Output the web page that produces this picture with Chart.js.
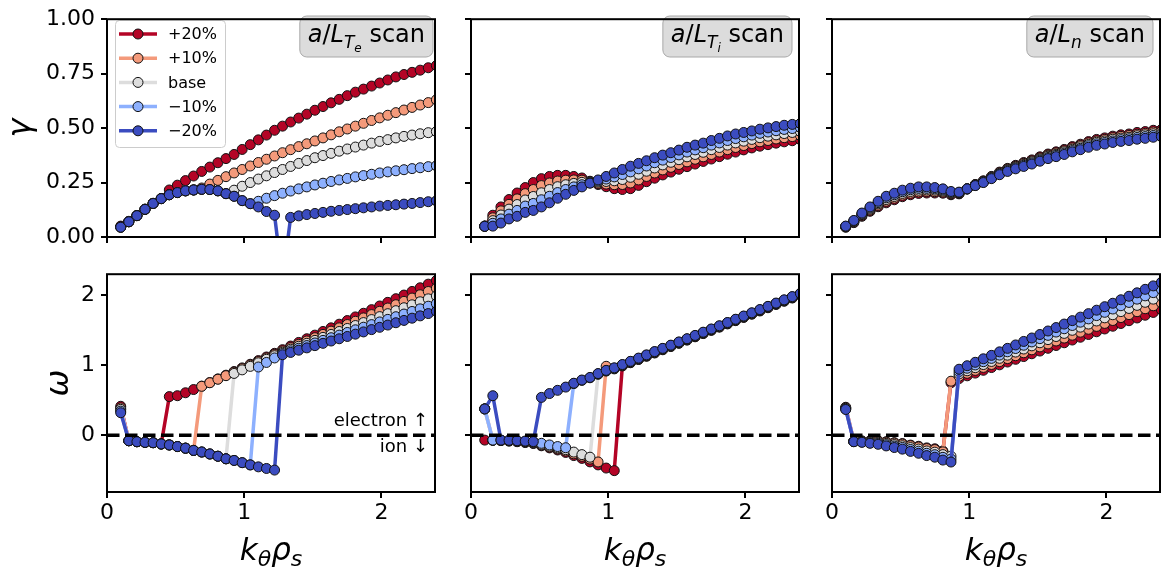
<!DOCTYPE html>
<html lang="en">
<head>
  <meta charset="UTF-8">
  <title>Growth rate and frequency scans</title>
  <script src="https://cdn.jsdelivr.net/npm/chart.js"></script>
  <style>
    body {
      margin: 0;
      width: 1161px;
      height: 576px;
      overflow: hidden;
      position: relative;
      background: #ffffff;
      font-family: 'DejaVu Sans', sans-serif;
    }
    canvas { position: absolute; }
  </style>
</head>
<body>
<script>
  // k_theta rho_s grid (shared by every panel)
  const kx = [0.100, 0.159, 0.218, 0.277, 0.336, 0.395, 0.454, 0.513, 0.572, 0.631,
              0.690, 0.749, 0.808, 0.867, 0.926, 0.985, 1.044, 1.103, 1.162, 1.221,
              1.279, 1.338, 1.397, 1.456, 1.515, 1.574, 1.633, 1.692, 1.751, 1.810,
              1.869, 1.928, 1.987, 2.046, 2.105, 2.164, 2.223, 2.282, 2.341, 2.400];

  // growth rate, a/L_Te scan
  const gTeP20 = [0.050, 0.072, 0.099, 0.128, 0.155, 0.177, 0.216, 0.238, 0.259, 0.280, 0.301, 0.321, 0.341, 0.360, 0.379, 0.402, 0.424, 0.446, 0.468, 0.490, 0.509, 0.528, 0.546, 0.564, 0.582, 0.599, 0.616, 0.632, 0.649, 0.665, 0.679, 0.693, 0.707, 0.721, 0.735, 0.746, 0.756, 0.766, 0.777, 0.787];
  const gTeP10 = [0.046, 0.070, 0.098, 0.127, 0.154, 0.176, 0.194, 0.204, 0.212, 0.216, 0.225, 0.243, 0.260, 0.277, 0.294, 0.310, 0.326, 0.342, 0.357, 0.372, 0.387, 0.401, 0.415, 0.428, 0.441, 0.455, 0.469, 0.483, 0.496, 0.509, 0.522, 0.535, 0.547, 0.559, 0.571, 0.583, 0.595, 0.606, 0.617, 0.630];
  const gTeBase = [0.045, 0.070, 0.098, 0.127, 0.154, 0.176, 0.194, 0.204, 0.212, 0.216, 0.219, 0.218, 0.212, 0.199, 0.215, 0.233, 0.250, 0.266, 0.281, 0.296, 0.310, 0.324, 0.338, 0.351, 0.364, 0.374, 0.384, 0.394, 0.404, 0.413, 0.422, 0.431, 0.439, 0.447, 0.455, 0.462, 0.468, 0.474, 0.479, 0.484];
  const gTeM10 = [0.045, 0.070, 0.098, 0.127, 0.154, 0.176, 0.194, 0.204, 0.212, 0.216, 0.219, 0.218, 0.212, 0.199, 0.187, 0.167, 0.153, 0.164, 0.178, 0.190, 0.201, 0.211, 0.221, 0.230, 0.239, 0.247, 0.255, 0.262, 0.269, 0.276, 0.282, 0.288, 0.294, 0.299, 0.304, 0.309, 0.314, 0.318, 0.323, 0.327];
  const gTeM20 = [0.045, 0.070, 0.098, 0.127, 0.154, 0.176, 0.194, 0.204, 0.212, 0.216, 0.219, 0.218, 0.212, 0.199, 0.187, 0.167, 0.153, 0.138, 0.117, 0.100, -0.200, 0.090, 0.097, 0.103, 0.108, 0.113, 0.118, 0.122, 0.126, 0.130, 0.134, 0.138, 0.142, 0.145, 0.148, 0.151, 0.154, 0.158, 0.162, 0.166];

  // growth rate, a/L_Ti scan
  const gTiP20 = [0.050, 0.100, 0.138, 0.172, 0.202, 0.227, 0.250, 0.268, 0.278, 0.283, 0.283, 0.278, 0.271, 0.256, 0.241, 0.231, 0.222, 0.218, 0.222, 0.237, 0.254, 0.270, 0.285, 0.298, 0.311, 0.323, 0.335, 0.347, 0.358, 0.369, 0.380, 0.390, 0.400, 0.409, 0.417, 0.424, 0.431, 0.437, 0.442, 0.447];
  const gTiP10 = [0.050, 0.088, 0.120, 0.150, 0.175, 0.199, 0.218, 0.236, 0.248, 0.257, 0.261, 0.262, 0.261, 0.254, 0.246, 0.243, 0.240, 0.241, 0.248, 0.262, 0.278, 0.294, 0.308, 0.320, 0.333, 0.345, 0.357, 0.368, 0.379, 0.390, 0.401, 0.411, 0.420, 0.429, 0.437, 0.443, 0.450, 0.456, 0.461, 0.466];
  const gTiBase = [0.050, 0.075, 0.101, 0.128, 0.149, 0.170, 0.186, 0.203, 0.218, 0.231, 0.240, 0.246, 0.251, 0.252, 0.252, 0.255, 0.258, 0.264, 0.274, 0.288, 0.302, 0.317, 0.331, 0.343, 0.355, 0.368, 0.379, 0.389, 0.401, 0.411, 0.422, 0.432, 0.440, 0.448, 0.456, 0.463, 0.469, 0.475, 0.480, 0.484];
  const gTiM10 = [0.049, 0.063, 0.083, 0.105, 0.122, 0.142, 0.154, 0.171, 0.187, 0.204, 0.218, 0.230, 0.240, 0.249, 0.257, 0.266, 0.276, 0.287, 0.299, 0.313, 0.326, 0.341, 0.353, 0.365, 0.377, 0.390, 0.400, 0.410, 0.422, 0.432, 0.443, 0.452, 0.460, 0.468, 0.476, 0.482, 0.488, 0.494, 0.498, 0.503];
  const gTiM20 = [0.049, 0.050, 0.064, 0.083, 0.095, 0.113, 0.122, 0.138, 0.157, 0.178, 0.196, 0.214, 0.230, 0.247, 0.262, 0.278, 0.294, 0.310, 0.325, 0.338, 0.350, 0.364, 0.376, 0.387, 0.399, 0.412, 0.422, 0.431, 0.443, 0.453, 0.464, 0.473, 0.480, 0.487, 0.495, 0.501, 0.507, 0.513, 0.517, 0.521];

  // growth rate, a/L_n scan
  const gNP20 = [0.045, 0.066, 0.095, 0.118, 0.139, 0.157, 0.171, 0.185, 0.194, 0.200, 0.202, 0.202, 0.201, 0.194, 0.198, 0.221, 0.241, 0.258, 0.278, 0.298, 0.315, 0.329, 0.342, 0.354, 0.368, 0.381, 0.391, 0.402, 0.415, 0.426, 0.438, 0.448, 0.455, 0.463, 0.469, 0.473, 0.480, 0.484, 0.490, 0.493];
  const gNP10 = [0.046, 0.068, 0.099, 0.123, 0.145, 0.164, 0.178, 0.192, 0.201, 0.207, 0.209, 0.208, 0.206, 0.198, 0.200, 0.221, 0.240, 0.256, 0.276, 0.295, 0.312, 0.325, 0.338, 0.349, 0.363, 0.376, 0.386, 0.396, 0.409, 0.420, 0.432, 0.441, 0.448, 0.456, 0.462, 0.466, 0.472, 0.476, 0.482, 0.485];
  const gNBase = [0.048, 0.071, 0.103, 0.128, 0.152, 0.172, 0.186, 0.200, 0.209, 0.215, 0.216, 0.215, 0.211, 0.202, 0.202, 0.221, 0.239, 0.254, 0.273, 0.292, 0.308, 0.321, 0.333, 0.345, 0.358, 0.371, 0.380, 0.391, 0.403, 0.414, 0.425, 0.435, 0.441, 0.449, 0.454, 0.458, 0.465, 0.469, 0.474, 0.477];
  const gNM10 = [0.049, 0.074, 0.106, 0.133, 0.158, 0.180, 0.194, 0.208, 0.217, 0.223, 0.223, 0.221, 0.216, 0.205, 0.204, 0.221, 0.237, 0.252, 0.271, 0.289, 0.305, 0.317, 0.329, 0.340, 0.353, 0.365, 0.375, 0.385, 0.397, 0.407, 0.419, 0.428, 0.434, 0.441, 0.447, 0.451, 0.457, 0.461, 0.466, 0.469];
  const gNM20 = [0.050, 0.076, 0.110, 0.138, 0.164, 0.187, 0.201, 0.215, 0.224, 0.230, 0.230, 0.227, 0.221, 0.209, 0.206, 0.221, 0.236, 0.250, 0.268, 0.286, 0.301, 0.313, 0.324, 0.335, 0.348, 0.360, 0.369, 0.379, 0.391, 0.401, 0.412, 0.421, 0.427, 0.434, 0.439, 0.443, 0.449, 0.453, 0.458, 0.461];

  // frequency, a/L_Te scan
  const wTeP20 = [0.414, -0.078, -0.092, -0.101, -0.106, -0.124, 0.552, 0.565, 0.607, 0.653, 0.702, 0.752, 0.805, 0.858, 0.910, 0.962, 1.014, 1.066, 1.118, 1.170, 1.222, 1.274, 1.326, 1.378, 1.430, 1.482, 1.534, 1.586, 1.638, 1.690, 1.742, 1.794, 1.846, 1.898, 1.950, 2.002, 2.054, 2.106, 2.158, 2.210];
  const wTeP10 = [0.390, -0.078, -0.092, -0.101, -0.106, -0.124, -0.138, -0.161, -0.184, -0.216, 0.699, 0.750, 0.800, 0.851, 0.901, 0.952, 1.002, 1.053, 1.103, 1.154, 1.204, 1.251, 1.298, 1.346, 1.393, 1.440, 1.487, 1.534, 1.581, 1.628, 1.676, 1.723, 1.770, 1.817, 1.864, 1.912, 1.959, 2.006, 2.053, 2.100];
  const wTeBase = [0.370, -0.078, -0.092, -0.101, -0.106, -0.124, -0.138, -0.161, -0.184, -0.216, -0.239, -0.267, -0.299, -0.336, 0.883, 0.934, 0.984, 1.035, 1.085, 1.136, 1.186, 1.229, 1.271, 1.313, 1.355, 1.398, 1.440, 1.482, 1.525, 1.567, 1.609, 1.652, 1.694, 1.736, 1.779, 1.821, 1.863, 1.906, 1.948, 1.990];
  const wTeM10 = [0.345, -0.078, -0.092, -0.101, -0.106, -0.124, -0.138, -0.161, -0.184, -0.216, -0.239, -0.267, -0.299, -0.336, -0.359, -0.391, -0.423, 0.975, 1.040, 1.104, 1.168, 1.206, 1.243, 1.281, 1.318, 1.355, 1.393, 1.430, 1.468, 1.506, 1.543, 1.580, 1.618, 1.655, 1.693, 1.731, 1.768, 1.805, 1.843, 1.880];
  const wTeM20 = [0.322, -0.078, -0.092, -0.101, -0.106, -0.124, -0.138, -0.161, -0.184, -0.216, -0.239, -0.267, -0.299, -0.336, -0.359, -0.391, -0.423, -0.451, -0.474, -0.497, 1.150, 1.183, 1.215, 1.248, 1.280, 1.313, 1.346, 1.378, 1.411, 1.444, 1.476, 1.509, 1.542, 1.574, 1.607, 1.640, 1.672, 1.705, 1.738, 1.770];

  // frequency, a/L_Ti scan
  const wTiP20 = [-0.069, -0.072, -0.076, -0.083, -0.092, -0.104, -0.118, -0.150, -0.180, -0.210, -0.245, -0.290, -0.330, -0.380, -0.423, -0.468, -0.505, 0.990, 1.036, 1.082, 1.128, 1.175, 1.221, 1.267, 1.313, 1.359, 1.406, 1.452, 1.498, 1.544, 1.590, 1.637, 1.683, 1.729, 1.775, 1.821, 1.868, 1.914, 1.960, 2.006];
  const wTiP10 = [0.376, -0.070, -0.074, -0.080, -0.088, -0.098, -0.110, -0.140, -0.167, -0.195, -0.225, -0.265, -0.300, -0.340, -0.381, 0.985, 0.948, 0.995, 1.041, 1.087, 1.133, 1.180, 1.226, 1.272, 1.318, 1.364, 1.411, 1.457, 1.503, 1.549, 1.595, 1.642, 1.688, 1.734, 1.780, 1.826, 1.873, 1.919, 1.965, 2.011];
  const wTiBase = [0.376, -0.070, -0.072, -0.077, -0.084, -0.092, -0.102, -0.130, -0.155, -0.180, -0.205, -0.240, -0.276, -0.313, 0.871, 0.917, 0.953, 1.000, 1.046, 1.092, 1.138, 1.185, 1.231, 1.277, 1.323, 1.369, 1.416, 1.462, 1.508, 1.554, 1.600, 1.647, 1.693, 1.739, 1.785, 1.831, 1.878, 1.924, 1.970, 2.016];
  const wTiM10 = [0.376, -0.069, -0.070, -0.074, -0.080, -0.086, -0.095, -0.115, -0.138, -0.161, -0.178, 0.738, 0.784, 0.821, 0.876, 0.922, 0.958, 1.005, 1.051, 1.097, 1.143, 1.190, 1.236, 1.282, 1.328, 1.374, 1.421, 1.467, 1.513, 1.559, 1.605, 1.652, 1.698, 1.744, 1.790, 1.836, 1.883, 1.929, 1.975, 2.021];
  const wTiM20 = [0.376, 0.565, -0.069, -0.072, -0.078, -0.083, -0.090, 0.541, 0.596, 0.642, 0.688, 0.743, 0.789, 0.826, 0.881, 0.927, 0.963, 1.010, 1.056, 1.102, 1.148, 1.195, 1.241, 1.287, 1.333, 1.379, 1.426, 1.472, 1.518, 1.564, 1.610, 1.657, 1.703, 1.749, 1.795, 1.841, 1.888, 1.934, 1.980, 2.026];

  // frequency, a/L_n scan
  const wNP20 = [0.400, -0.087, -0.081, -0.080, -0.079, -0.092, -0.105, -0.118, -0.140, -0.157, -0.180, -0.193, -0.224, 0.750, 0.810, 0.849, 0.888, 0.928, 0.967, 1.006, 1.046, 1.085, 1.124, 1.164, 1.203, 1.242, 1.282, 1.321, 1.360, 1.400, 1.439, 1.478, 1.518, 1.557, 1.596, 1.636, 1.675, 1.714, 1.754, 1.793];
  const wNP10 = [0.390, -0.088, -0.083, -0.084, -0.084, -0.098, -0.112, -0.126, -0.149, -0.167, -0.191, -0.205, -0.237, 0.772, 0.843, 0.885, 0.927, 0.969, 1.011, 1.052, 1.095, 1.136, 1.178, 1.220, 1.262, 1.304, 1.346, 1.388, 1.429, 1.472, 1.514, 1.555, 1.598, 1.639, 1.681, 1.723, 1.765, 1.807, 1.849, 1.891];
  const wNBase = [0.385, -0.089, -0.089, -0.094, -0.099, -0.116, -0.133, -0.150, -0.176, -0.197, -0.224, -0.241, -0.276, -0.298, 0.877, 0.921, 0.965, 1.010, 1.054, 1.099, 1.144, 1.188, 1.232, 1.277, 1.321, 1.366, 1.410, 1.455, 1.499, 1.544, 1.588, 1.632, 1.677, 1.721, 1.766, 1.811, 1.855, 1.899, 1.944, 1.988];
  const wNM10 = [0.375, -0.091, -0.095, -0.105, -0.114, -0.134, -0.154, -0.174, -0.203, -0.227, -0.257, -0.277, -0.315, -0.340, 0.910, 0.957, 1.004, 1.051, 1.098, 1.145, 1.192, 1.239, 1.286, 1.333, 1.380, 1.427, 1.474, 1.521, 1.568, 1.615, 1.662, 1.709, 1.756, 1.803, 1.850, 1.897, 1.944, 1.991, 2.037, 2.085];
  const wNM20 = [0.368, -0.092, -0.101, -0.115, -0.129, -0.152, -0.175, -0.198, -0.230, -0.257, -0.290, -0.313, -0.354, -0.382, 0.943, 0.993, 1.042, 1.092, 1.141, 1.191, 1.241, 1.290, 1.340, 1.389, 1.439, 1.489, 1.538, 1.588, 1.637, 1.687, 1.737, 1.786, 1.836, 1.885, 1.935, 1.985, 2.034, 2.084, 2.133, 2.183];

  const seriesLabels = ['+20%', '+10%', 'base', '\u221210%', '\u221220%'];
  const seriesColors = ['#b40426', '#f49a7b', '#dddddd', '#8db0fe', '#3b4cc0'];

  const FONT = '"DejaVu Sans"';
  const colLeft = [107, 471, 832];
  const rowTop = [12, 267];
  const PW = 328, PH = 225;

  // draws a run of [text, font, dy] pieces, like a small mathtext line
  function drawRich(ctx, parts, x, y, align) {
    let w = 0;
    parts.forEach(p => { ctx.font = p[1]; w += ctx.measureText(p[0]).width; });
    let cx = align === 'center' ? x - w / 2 : (align === 'right' ? x - w : x);
    ctx.textAlign = 'left';
    ctx.textBaseline = 'alphabetic';
    parts.forEach(p => {
      ctx.font = p[1];
      ctx.fillText(p[0], cx, y + (p[2] || 0));
      cx += ctx.measureText(p[0]).width;
    });
    return w;
  }

  function roundRect(ctx, x, y, w, h, r) {
    ctx.beginPath();
    ctx.moveTo(x + r, y);
    ctx.arcTo(x + w, y, x + w, y + h, r);
    ctx.arcTo(x + w, y + h, x, y + h, r);
    ctx.arcTo(x, y + h, x, y, r);
    ctx.arcTo(x, y, x + w, y, r);
    ctx.closePath();
  }

  const it = s => 'italic ' + s + 'px ' + FONT;
  const up = s => s + 'px ' + FONT;

  const scanTags = [
    [['a', it(24)], ['/', up(24)], ['L', it(24)], ['T', it(17), 6], ['e', it(12), 10], [' scan', up(24)]],
    [['a', it(24)], ['/', up(24)], ['L', it(24)], ['T', it(17), 6], ['i', it(12), 10], [' scan', up(24)]],
    [['a', it(24)], ['/', up(24)], ['L', it(24)], ['n', it(17), 6], [' scan', up(24)]]
  ];
  const tagRight = [433, 428, 428];

  const panels = [
    { row: 0, col: 0, series: [gTeP20, gTeP10, gTeBase, gTeM10, gTeM20] },
    { row: 0, col: 1, series: [gTiP20, gTiP10, gTiBase, gTiM10, gTiM20] },
    { row: 0, col: 2, series: [gNP20, gNP10, gNBase, gNM10, gNM20] },
    { row: 1, col: 0, series: [wTeP20, wTeP10, wTeBase, wTeM10, wTeM20] },
    { row: 1, col: 1, series: [wTiP20, wTiP10, wTiBase, wTiM10, wTiM20] },
    { row: 1, col: 2, series: [wNP20, wNP10, wNBase, wNM10, wNM20] }
  ];

  function makePanel(p) {
    const L = colLeft[p.col], T = rowTop[p.row];
    const cw = 107 + PW + 6;
    const ch = p.row === 0 ? 262 : 321;
    const cv = document.createElement('canvas');
    cv.width = cw;
    cv.height = ch;
    cv.style.left = (L - 107) + 'px';
    cv.style.top = (T - 12) + 'px';
    document.body.appendChild(cv);

    const decor = {
      id: 'decor',
      afterDatasetsDraw(chart) {
        if (p.row !== 1) return;
        const ctx = chart.ctx, a = chart.chartArea;
        const y0 = chart.scales.y.getPixelForValue(0);
        ctx.save();
        ctx.strokeStyle = '#000';
        ctx.lineWidth = 3.3;
        ctx.setLineDash([12.5, 5.5]);
        ctx.beginPath();
        ctx.moveTo(a.left, y0);
        ctx.lineTo(a.right, y0);
        ctx.stroke();
        ctx.restore();
      },
      afterDraw(chart) {
        const ctx = chart.ctx, a = chart.chartArea;
        ctx.save();
        ctx.fillStyle = '#000';

        if (p.row === 0) {
          // scan tag box
          let w = 0;
          scanTags[p.col].forEach(q => { ctx.font = q[1]; w += ctx.measureText(q[0]).width; });
          const bw = w + 16, bx = tagRight[p.col] - bw;
          roundRect(ctx, bx, 16, bw, 41, 7);
          ctx.fillStyle = '#dcdcdc';
          ctx.fill();
          ctx.strokeStyle = '#a8a8a8';
          ctx.lineWidth = 1;
          ctx.stroke();
          ctx.fillStyle = '#000';
          drawRich(ctx, scanTags[p.col], bx + 8, 42, 'left');
        }

        if (p.row === 0 && p.col === 0) {
          // legend
          roundRect(ctx, 115.5, 20.5, 110, 127, 4);
          ctx.fillStyle = 'rgba(255,255,255,0.8)';
          ctx.fill();
          ctx.strokeStyle = '#cccccc';
          ctx.lineWidth = 1;
          ctx.stroke();
          seriesLabels.forEach((lab, i) => {
            const yy = 34 + i * 24.2;
            ctx.strokeStyle = seriesColors[i];
            ctx.lineWidth = 3.5;
            ctx.beginPath();
            ctx.moveTo(119, yy);
            ctx.lineTo(157, yy);
            ctx.stroke();
            ctx.beginPath();
            ctx.arc(138, yy, 5, 0, Math.PI * 2);
            ctx.fillStyle = seriesColors[i];
            ctx.fill();
            ctx.strokeStyle = '#111';
            ctx.lineWidth = 1;
            ctx.stroke();
            ctx.fillStyle = '#000';
            ctx.font = up(16);
            ctx.textAlign = 'left';
            ctx.textBaseline = 'middle';
            ctx.fillText(lab, 168, yy + 1);
          });
        }

        if (p.row === 1 && p.col === 0) {
          ctx.fillStyle = '#000';
          ctx.font = up(18);
          ctx.textAlign = 'right';
          ctx.textBaseline = 'alphabetic';
          ctx.fillText('electron \u2191', 428, 426 - 255);
          ctx.fillText('ion \u2193', 428, 452 - 255);
        }

        if (p.row === 1) {
          drawRich(ctx, [['k', it(31)], ['\u03b8', it(22), 6], ['\u03c1', it(31)], ['s', it(22), 6]],
                   (a.left + a.right) / 2, 560 - 255, 'center');
        }

        if (p.col === 0) {
          ctx.save();
          const cy = (a.top + a.bottom) / 2;
          ctx.translate(p.row === 0 ? 30 : 68, cy);
          ctx.rotate(-Math.PI / 2);
          ctx.font = it(32);
          ctx.textAlign = 'center';
          ctx.textBaseline = 'alphabetic';
          ctx.fillStyle = '#000';
          ctx.fillText(p.row === 0 ? '\u03b3' : '\u03c9', 0, 0);
          ctx.restore();
        }

        // four spines
        ctx.strokeStyle = '#000';
        ctx.lineWidth = 2;
        ctx.setLineDash([]);
        ctx.strokeRect(a.left, a.top, a.right - a.left, a.bottom - a.top);
        ctx.restore();
      }
    };

    const tickFont = { family: 'DejaVu Sans', size: 22 };

    new Chart(cv, {
      type: 'line',
      data: {
        datasets: p.series.map((arr, i) => ({
          label: seriesLabels[i],
          data: kx.map((x, j) => ({ x: x, y: arr[j] })),
          borderColor: seriesColors[i],
          backgroundColor: seriesColors[i],
          pointBackgroundColor: seriesColors[i],
          pointBorderColor: '#111',
          pointBorderWidth: 1,
          pointRadius: 5,
          borderWidth: 3.5,
          tension: 0,
          order: 5 - i
        }))
      },
      options: {
        responsive: false,
        animation: false,
        devicePixelRatio: 1,
        layout: { padding: { left: 0, right: 6, top: 12, bottom: 0 } },
        plugins: { legend: { display: false }, tooltip: { enabled: false } },
        scales: {
          x: {
            type: 'linear',
            min: 0,
            max: 2.39,
            afterFit: s => { s.height = ch - 12 - PH; },
            border: { display: false },
            grid: { drawOnChartArea: false, drawTicks: true, tickLength: 6, lineWidth: 2, tickColor: '#000' },
            ticks: {
              stepSize: 1,
              includeBounds: false,
              autoSkip: false,
              maxRotation: 0,
              padding: 2,
              color: '#000',
              font: tickFont,
              callback: v => (p.row === 1 ? String(v) : '')
            }
          },
          y: {
            min: p.row === 0 ? 0 : -0.81,
            max: p.row === 0 ? 1 : 2.3,
            afterFit: s => { s.width = 107; },
            border: { display: false },
            grid: { drawOnChartArea: false, drawTicks: true, tickLength: 6, lineWidth: 2, tickColor: '#000' },
            ticks: {
              stepSize: p.row === 0 ? 0.25 : 1,
              includeBounds: false,
              autoSkip: false,
              padding: 6,
              color: '#000',
              font: tickFont,
              callback: v => {
                if (p.col !== 0) return '';
                return p.row === 0 ? v.toFixed(2) : String(Math.round(v));
              }
            }
          }
        }
      },
      plugins: [decor]
    });
  }

  panels.forEach(makePanel);
</script>
</body>
</html>
